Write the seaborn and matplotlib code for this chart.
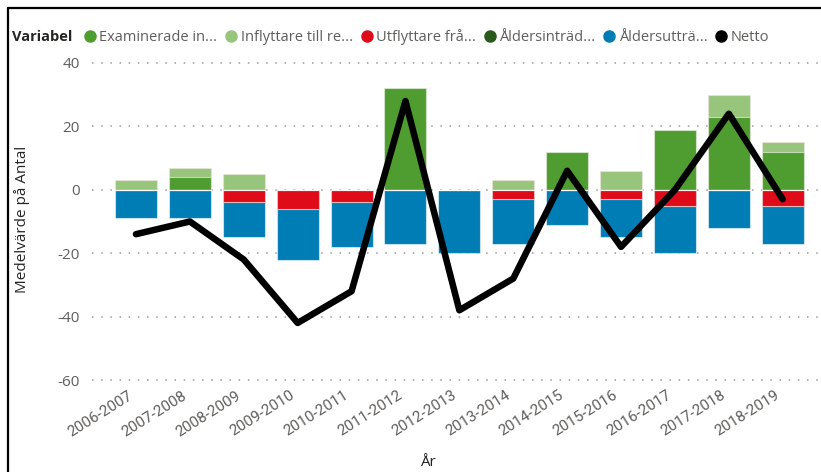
import numpy as np
import pandas as pd
import matplotlib
matplotlib.use("Agg")
import matplotlib.pyplot as plt
from matplotlib.lines import Line2D
import seaborn as sns

years = ["2006-2007", "2007-2008", "2008-2009", "2009-2010", "2010-2011", "2011-2012",
         "2012-2013", "2013-2014", "2014-2015", "2015-2016", "2016-2017", "2017-2018", "2018-2019"]
examinerade = [0, 4, 0, 0, 0, 32, 0, 0, 12, 0, 19, 23, 12]
inflyttare = [3, 3, 5, 0, 0, 0, 0, 3, 0, 6, 0, 7, 3]
utflyttare = [0, 0, -4, -6, -4, 0, 0, -3, 0, -3, -5, 0, -5]
aldersintrad = [0, 0, 0, 0, 0, 0, 0, 0, 0, 0, 0, 0, 0]
aldersuttrad = [-9, -9, -11, -16, -14, -17, -20, -14, -11, -12, -15, -12, -12]
netto = [-14, -10, -22, -42, -32, 28, -38, -28, 6, -18, 0, 24, -3]

series_names = ["Examinerade in...", "Inflyttare till re...", "Utflyttare frå...",
                "Åldersinträd...", "Åldersutträ...", "Netto"]
series_vals = [examinerade, inflyttare, utflyttare, aldersintrad, aldersuttrad]
colors = ["#4f9d30", "#97c57c", "#e00b18", "#2a5a1b", "#007db5", "#000000"]

sns.set_theme(style="white")
plt.rcParams['font.family'] = ['Open Sans', 'DejaVu Sans']

fig = plt.figure(figsize=(8.21, 4.72), dpi=100)
ax = fig.add_axes([92/821, 92/472, 1 - 92/821, (380-63)/472])

vals = np.array(series_vals, dtype=float)
pos = np.clip(vals, 0, None)
neg = np.clip(vals, None, 0)
cum_pos = np.cumsum(pos, axis=0)
cum_neg = np.cumsum(neg, axis=0)

edge = (1, 1, 1, 0.55)
for k in range(len(series_vals) - 1, -1, -1):
    df = pd.DataFrame({"År": years, "v": cum_pos[k]})
    sns.barplot(data=df, x="År", y="v", order=years, color=colors[k], saturation=1,
                width=0.78, edgecolor=edge, linewidth=0.8, ax=ax, zorder=2)
for k in range(len(series_vals) - 1, -1, -1):
    df = pd.DataFrame({"År": years, "v": cum_neg[k]})
    sns.barplot(data=df, x="År", y="v", order=years, color=colors[k], saturation=1,
                width=0.78, edgecolor=edge, linewidth=0.8, ax=ax, zorder=2)

ldf = pd.DataFrame({"x": np.arange(len(years)), "Netto": netto})
sns.lineplot(data=ldf, x="x", y="Netto", color="black", linewidth=4.7, sort=False, ax=ax,
             zorder=4, solid_capstyle="round", solid_joinstyle="round")

ax.set_ylim(-60, 40)
ax.set_xlim(-0.816, 12.71)
ax.set_yticks([-60, -40, -20, 0, 20, 40])
ax.set_yticklabels(["-60", "-40", "-20", "0", "20", "40"])
ax.set_xticks(np.arange(len(years)))
ax.set_xticklabels([])
for i, yr in enumerate(years):
    ax.annotate(yr, xy=(i, 0), xycoords=("data", "axes fraction"), xytext=(-6, -6),
                textcoords="offset points", rotation=32, ha="right", va="top",
                rotation_mode="anchor", family=["Roboto", "DejaVu Sans"], fontsize=11,
                color="#605e5c", annotation_clip=False)
ax.tick_params(axis="y", length=0, pad=9, labelsize=11, labelcolor="#605e5c")
ax.tick_params(axis="x", length=0)
ax.set_xlabel("")
ax.set_ylabel("")
for s in ax.spines.values():
    s.set_visible(False)
ax.grid(False)
for yv in [-60, -40, -20, 0, 20, 40]:
    ax.axhline(yv, color="#9a9a9a", linewidth=1.1, linestyle=(0, (1, 5)), zorder=0.5,
               clip_on=False)
ax.set_facecolor("white")

fig.text(22/821, 1 - 219/472, "Medelvärde på Antal", rotation=90, ha="center", va="center",
         fontsize=11, color="#252423")
fig.text(428/821, 1 - 463/472, "År", ha="center", va="center", fontsize=11, color="#252423")

fig.text(12/821, 1 - 37/472, "Variabel", ha="left", va="center", fontsize=10.5,
         fontweight="bold", color="#252423")
handles = [Line2D([0], [0], marker="o", linestyle="none", markersize=8,
                  markerfacecolor=c, markeredgecolor=c) for c in colors]
fig.legend(handles, series_names, loc="center left", bbox_to_anchor=(84/821, 1 - 37/472),
           ncol=6, frameon=False, fontsize=10.5, labelcolor="#605e5c", handlelength=0.8,
           handletextpad=0.25, columnspacing=0.55, borderpad=0, borderaxespad=0)

fig.add_artist(Line2D([8/821, 1], [1 - 8/472, 1 - 8/472], color="black", linewidth=1.6,
                      transform=fig.transFigure))
fig.add_artist(Line2D([8/821, 8/821], [0, 1 - 8/472], color="black", linewidth=1.6,
                      transform=fig.transFigure))

fig.savefig("out.png", dpi=100, facecolor="white")
